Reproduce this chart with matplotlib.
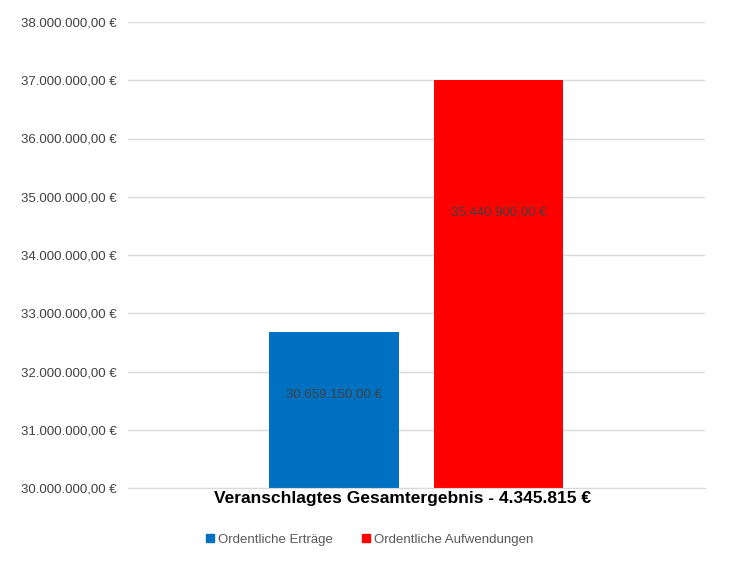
import matplotlib
matplotlib.use("Agg")
from matplotlib import pyplot as plt
from matplotlib.patches import Patch
from matplotlib.ticker import FuncFormatter

plt.rcParams['font.family'] = ['Liberation Sans', 'DejaVu Sans']

# data
series = ["Ordentliche Erträge", "Ordentliche Aufwendungen"]
values = [32680000, 37000000]
labels = ["30.659.150,00 €", "35.440.900,00 €"]
label_y = [31600000, 34730000]
colors = ["#0070c0", "#ff0000"]
title = "Veranschlagtes Gesamtergebnis - 4.345.815 €"


def euro(v, pos=None):
    s = f"{v:,.2f}"
    s = s.replace(",", "X").replace(".", ",").replace("X", ".")
    return s + " €"


fig = plt.figure(figsize=(7.43, 5.62), dpi=100)
ax = fig.add_axes([128 / 743, 1 - 488 / 562, 577 / 743, 466 / 562])

offsets = [-0.143, 0.142]
for i in range(len(series)):
    ax.bar(offsets[i], values[i], width=0.225, bottom=0, color=colors[i], zorder=2)
    ax.text(offsets[i], label_y[i], labels[i], ha="center", va="center",
            fontsize=9.5, color="#404040", zorder=3)

ax.set_xlim(-0.5, 0.5)
ax.set_ylim(30000000, 38000000)
ax.set_yticks(range(30000000, 38000001, 1000000))
ax.yaxis.set_major_formatter(FuncFormatter(euro))
ax.set_xticks([])
ax.tick_params(axis="y", length=0, pad=8, labelsize=9.5, labelcolor="#404040")
ax.grid(axis="y", color="#d9d9d9", linewidth=1, zorder=0)
for s in ["top", "right", "left"]:
    ax.spines[s].set_visible(False)
ax.spines["bottom"].set_color("#d9d9d9")

fig.text(402 / 743, 1 - 499 / 562, title, ha="center", va="center",
         fontsize=12.5, fontweight="bold", color="black")

handles = [Patch(color=c) for c in colors]
fig.legend(handles, series, loc="center", bbox_to_anchor=(370 / 743, 1 - 540 / 562),
           ncol=2, frameon=False, fontsize=9.5, labelcolor="#595959",
           handlelength=0.55, handleheight=0.55, handletextpad=0.35, columnspacing=2.2)

fig.savefig("out.png", dpi=100)
